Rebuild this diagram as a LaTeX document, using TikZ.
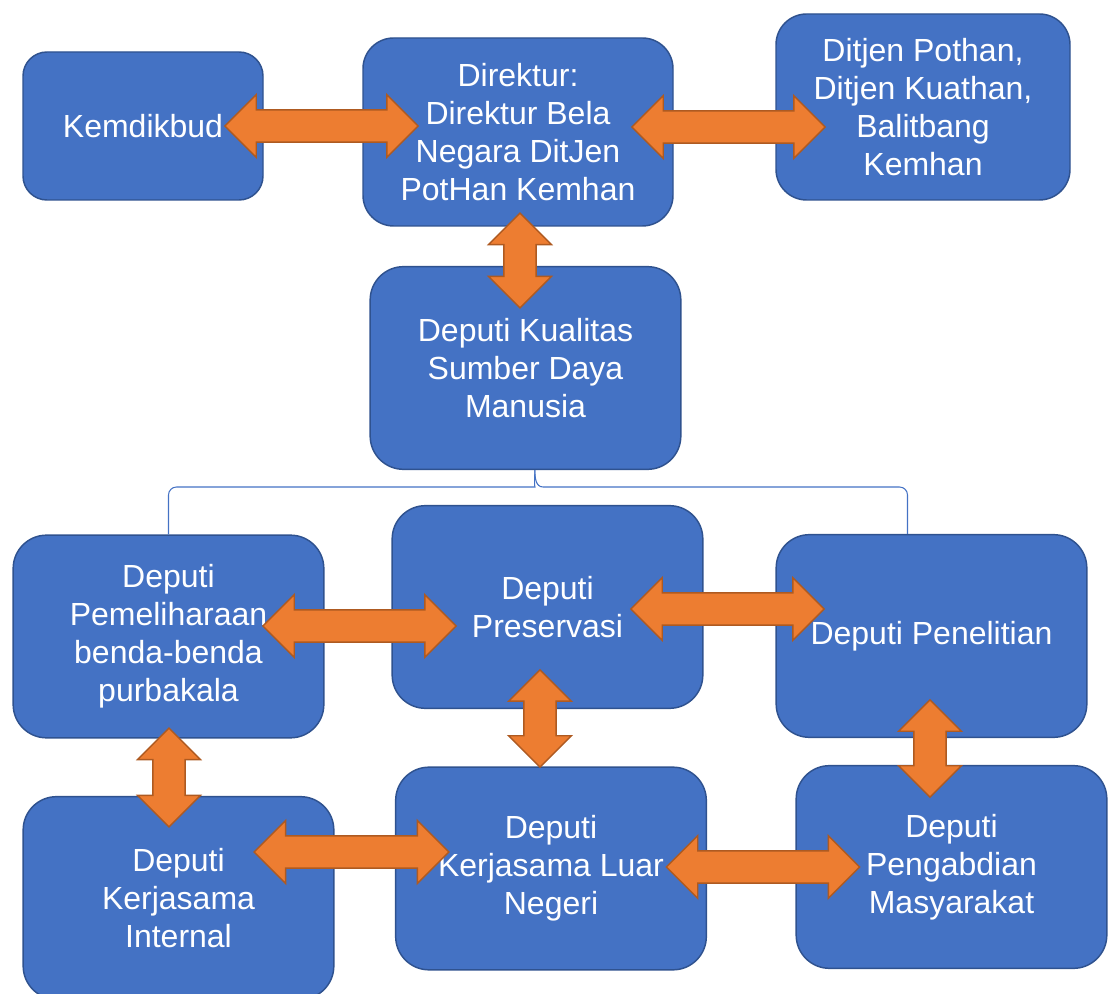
\documentclass[tikz,border=0pt]{standalone}
\usepackage{fontspec}
\setmainfont{Liberation Sans}
\usepackage{tikz}
\usetikzlibrary{shapes,arrows}
\definecolor{boxblue}{HTML}{4472C4}
\definecolor{boxline}{HTML}{2F528F}
\definecolor{arroworange}{HTML}{ED7D31}
\definecolor{arrowline}{HTML}{AE5A21}

\begin{document}
\begin{tikzpicture}[x=0.75pt,y=-0.75pt]
\tikzstyle{box} = [rectangle, draw=boxline, fill=boxblue, line width=1.1pt, text=white, align=center, font=\fontsize{24}{28.5}\selectfont, minimum width=233pt, minimum height=152pt, rounded corners=25pt, inner sep=0pt]
\tikzstyle{dbl}=[double arrow,
                                    draw=arrowline,
                                    fill=arroworange,
                                    line width=1.1pt,
                                    inner xsep=0pt,
                                    inner ysep=11.5pt,
                                    minimum height=145pt,
                                    double arrow head extend=11.5pt]
\tikzstyle{dblv}=[dbl, rotate=90, minimum height=73pt]
\tikzstyle{link}=[draw=boxblue, line width=0.8pt]
\useasboundingbox (0,0) rectangle (1108,994);
\node[box, minimum width=180pt, minimum height=111pt, rounded corners=18pt] (KEM) at (143,126) {Kemdikbud};
\node[box, minimum width=232.5pt, minimum height=141pt, rounded corners=23pt] (DIR) at (518,132) {Direktur:\\Direktur Bela\\Negara DitJen\\PotHan Kemhan};
\node[box, minimum width=220.5pt, minimum height=139.5pt, rounded corners=23pt] (DIT) at (923,107) {Ditjen Pothan,\\Ditjen Kuathan,\\Balitbang\\Kemhan};
\node[box] (DQ) at (525.5,368) {Deputi Kualitas\\Sumber Daya\\Manusia};
\node[box] (DPB) at (168.5,636.5) {Deputi\\Pemeliharaan\\benda-benda\\purbakala};
\node[box] (DPS) at (547.5,607) {Deputi\\Preservasi};
\node[box] (DPL) at (931.5,636) {Deputi Penelitian};
\node[box] (DKI) at (178.5,898) {Deputi\\Kerjasama\\Internal};
\node[box] (DKLN) at (551,868.5) {Deputi\\Kerjasama Luar\\Negeri};
\node[box] (DPM) at (951.5,867) {Deputi\\Pengabdian\\Masyarakat};
% bracket below Deputi Kualitas
\draw[link] (DPB.north) [rounded corners=6pt] |- (527,487) [sharp corners] to[out=0,in=-90] ([xshift=7pt]DQ.south);
\draw[link] ([xshift=7pt]DQ.south) to[out=-90,in=180] (543,487) [rounded corners=6pt] -| ([xshift=-18pt]DPL.north);
% double arrows
\node[dbl] (KEMDIR) at (321.5,126) {};
\node[dbl] (DIRDIT) at (728.5,127) {};
\node[dblv, minimum height=71pt] (DIRDQ) at (520,260.5) {};
\node[dbl] (DPBDPS) at (359.5,626) {};
\node[dbl] (DPSDPL) at (727.5,609) {};
\node[dblv] (DPSDKLN) at (540,718.5) {};
\node[dblv] (DPLDPM) at (930,748.5) {};
\node[dblv, minimum height=74pt] (DPBDKI) at (169,777.5) {};
\node[dbl, minimum height=146pt] (DKIDKLN) at (351.5,852) {};
\node[dbl] (DKLNDPM) at (763,867) {};
\end{tikzpicture}
\end{document}
